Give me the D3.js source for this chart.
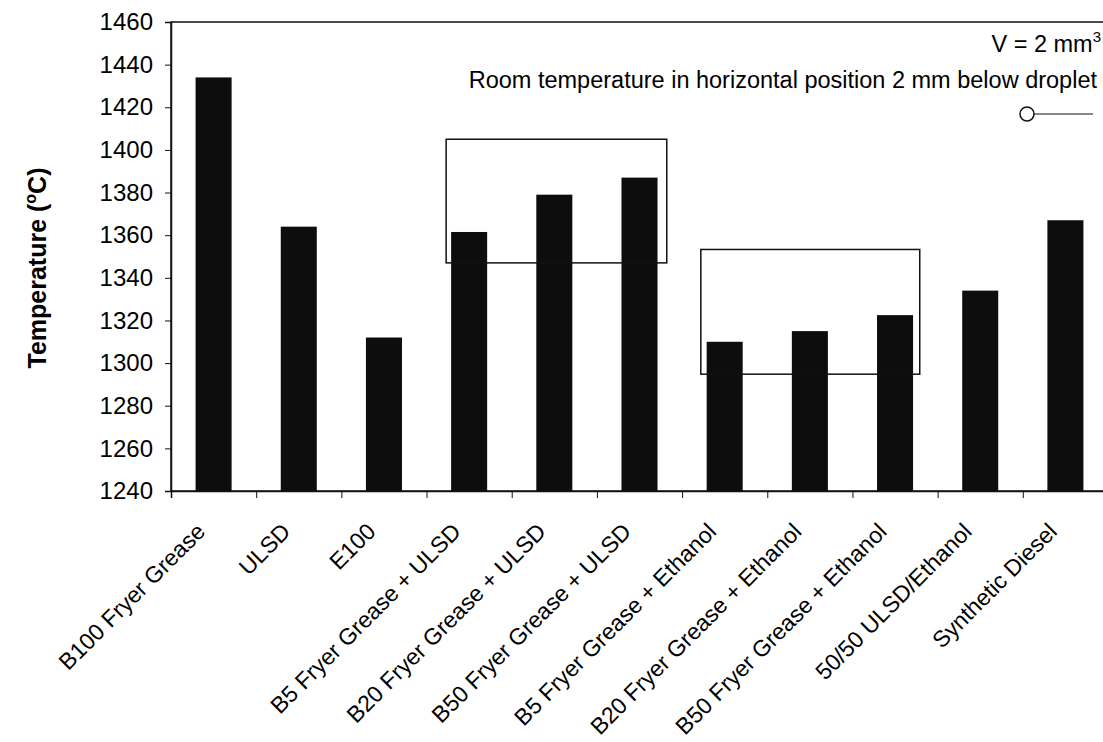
<!DOCTYPE html>
<html>
<head>
<meta charset="utf-8">
<script src="https://cdn.jsdelivr.net/npm/d3@7"></script>
<style>
  html, body { margin: 0; padding: 0; background: #fff; }
  svg { display: block; font-family: "Liberation Sans", Arial, sans-serif; }
</style>
</head>
<body>
<script>
// ---- data ----
const categories = [
  "B100 Fryer Grease", "ULSD", "E100",
  "B5 Fryer Grease + ULSD", "B20 Fryer Grease + ULSD", "B50 Fryer Grease + ULSD",
  "B5 Fryer Grease + Ethanol", "B20 Fryer Grease + Ethanol", "B50 Fryer Grease + Ethanol",
  "50/50 ULSD/Ethanol", "Synthetic Diesel"
];
const temperatures = [1434, 1364, 1312, 1361.5, 1379, 1387, 1310, 1315, 1322.5, 1334, 1367];
const yTicks = [1240, 1260, 1280, 1300, 1320, 1340, 1360, 1380, 1400, 1420, 1440, 1460];
// highlight boxes (in category-index units and temperature units)
const boxStart = [3.23, 6.22];
const boxEnd = [5.82, 8.79];
const boxTop = [1405, 1353.3];
const boxBottom = [1347, 1294.8];
const annotationLines = ["V = 2 mm", "Room temperature in horizontal position 2 mm below droplet"];

// ---- layout ----
const W = 1103, H = 742;
const m = { left: 171, top: 22, right: 1108, bottom: 491 };

const svg = d3.select("body").append("svg").attr("width", W).attr("height", H);

const x = d3.scaleBand().domain(categories).range([m.left, m.right])
  .paddingInner(0.577).paddingOuter(0.577 / 2);
const xCat = d3.scaleLinear().domain([0, categories.length]).range([m.left, m.right]);
const y = d3.scaleLinear().domain([1240, 1460]).range([m.bottom, m.top]);

// plot frame
svg.append("rect")
  .attr("x", m.left).attr("y", m.top)
  .attr("width", m.right - m.left).attr("height", m.bottom - m.top)
  .attr("fill", "none").attr("stroke", "#111").attr("stroke-width", 1.5);

// bars
svg.append("g").selectAll("rect").data(temperatures).join("rect")
  .attr("x", (d, i) => x(categories[i]))
  .attr("width", x.bandwidth())
  .attr("y", d => y(d))
  .attr("height", d => y(1240) - y(d))
  .attr("fill", "#0d0d0d");

// boxes
svg.append("g").selectAll("rect").data(boxStart).join("rect")
  .attr("x", (d, i) => xCat(d))
  .attr("width", (d, i) => xCat(boxEnd[i]) - xCat(d))
  .attr("y", (d, i) => y(boxTop[i]))
  .attr("height", (d, i) => y(boxBottom[i]) - y(boxTop[i]))
  .attr("fill", "none").attr("stroke", "#111").attr("stroke-width", 1.5);

// y axis
const yAxis = svg.append("g").attr("transform", `translate(${m.left},0)`)
  .call(d3.axisLeft(y).tickValues(yTicks).tickFormat(d3.format("d")).tickSize(6).tickPadding(12));
yAxis.select(".domain").attr("stroke", "#111").attr("stroke-width", 1.5);
yAxis.selectAll(".tick line").attr("stroke", "#111");
yAxis.selectAll("text").attr("font-size", 24).attr("fill", "#000")
  .attr("font-family", "Liberation Sans, Arial, sans-serif");

// x axis boundary ticks
const xAxis = svg.append("g").attr("transform", `translate(0,${m.bottom})`)
  .call(d3.axisBottom(xCat).tickValues(d3.range(0, categories.length + 1)).tickSize(7).tickFormat(""));
xAxis.select(".domain").attr("stroke", "#111").attr("stroke-width", 1.5);
xAxis.selectAll(".tick line").attr("stroke", "#111");

// category labels
const xLab = svg.append("g").attr("transform", `translate(0,${m.bottom})`)
  .call(d3.axisBottom(x).tickSize(0).tickPadding(0));
xLab.select(".domain").remove();
xLab.selectAll(".tick text")
  .attr("font-size", 23).attr("fill", "#000")
  .attr("font-family", "Liberation Sans, Arial, sans-serif")
  .attr("text-anchor", "end")
  .attr("dy", 0).attr("y", 0)
  .attr("transform", "translate(-7,42) rotate(-45)");

// y axis title
const yt = svg.append("text")
  .attr("transform", "translate(46,268) rotate(-90)")
  .attr("text-anchor", "middle")
  .attr("font-size", 25).attr("font-weight", "bold").attr("fill", "#000");
yt.append("tspan").text("Temperature (");
yt.append("tspan").text("o").attr("font-size", 16).attr("dy", -10);
yt.append("tspan").text("C)").attr("dy", 10);

// annotations
const a1 = svg.append("text").attr("x", 1101).attr("y", 52)
  .attr("text-anchor", "end").attr("font-size", 23.5).attr("fill", "#000");
a1.append("tspan").text(annotationLines[0]);
a1.append("tspan").text("3").attr("font-size", 15).attr("dy", -10);

svg.append("text").attr("x", 1097).attr("y", 88)
  .attr("text-anchor", "end").attr("font-size", 23.5).attr("fill", "#000")
  .text(annotationLines[1]);

// legend symbol
svg.append("line").attr("x1", 1027).attr("x2", 1093).attr("y1", 114).attr("y2", 114)
  .attr("stroke", "#111").attr("stroke-width", 1.2);
svg.append("circle").attr("cx", 1027).attr("cy", 114).attr("r", 7)
  .attr("fill", "#fff").attr("stroke", "#111").attr("stroke-width", 1.5);
</script>
</body>
</html>
